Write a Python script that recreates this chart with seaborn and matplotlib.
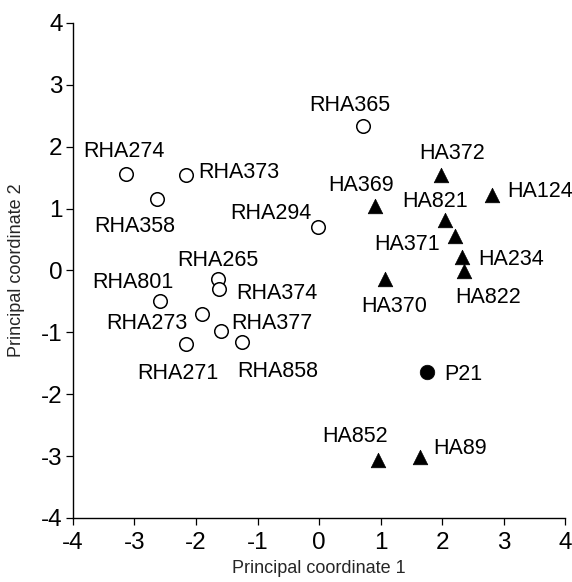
import matplotlib
matplotlib.use("Agg")
import matplotlib.pyplot as plt
import seaborn as sns
import pandas as pd

# ---- data ----
names = ["RHA274", "RHA373", "RHA358", "RHA294", "RHA265", "RHA374", "RHA801",
         "RHA273", "RHA377", "RHA271", "RHA858", "RHA365",
         "HA372", "HA369", "HA821", "HA124", "HA371", "HA234", "HA822", "HA370",
         "HA852", "HA89", "P21"]
pc1 = [-3.14, -2.16, -2.63, -0.02, -1.65, -1.63, -2.59,
       -1.91, -1.60, -2.16, -1.25, 0.72,
       1.99, 0.91, 2.05, 2.81, 2.21, 2.32, 2.36, 1.08,
       0.96, 1.64, 1.75]
pc2 = [1.56, 1.54, 1.16, 0.70, -0.14, -0.30, -0.49,
       -0.71, -0.98, -1.19, -1.16, 2.33,
       1.54, 1.04, 0.81, 1.22, 0.55, 0.21, -0.01, -0.14,
       -3.06, -3.02, -1.64]
group = ["RHA"] * 12 + ["HA"] * 10 + ["P21"]
ticks = [-4, -3, -2, -1, 0, 1, 2, 3, 4]

df = pd.DataFrame({"name": names, "pc1": pc1, "pc2": pc2, "group": group})

# label layout: (dx, dy) pixel offset of text from point (dy downward), alignment
label_layout = {
    "RHA274": (-2, -25, "center"), "RHA373": (12, -5.5, "left"),
    "RHA358": (-22, 25, "center"), "RHA294": (-6, -16, "right"),
    "RHA265": (0, -21, "center"), "RHA374": (17, 1.5, "left"),
    "RHA801": (-26.5, -21, "center"), "RHA273": (-14, 7, "right"),
    "RHA377": (11, -10, "left"), "RHA271": (-8.5, 27, "center"),
    "RHA858": (36, 27, "center"), "RHA365": (-13, -23, "center"),
    "HA372": (11, -24, "center"), "HA369": (-13.5, -23, "center"),
    "HA821": (-10.5, -21, "center"), "HA124": (15, -5.5, "left"),
    "HA371": (-15, 6, "right"), "HA234": (17, 0, "left"),
    "HA822": (24, 24, "center"), "HA370": (9, 24.5, "center"),
    "HA852": (-23, -25.5, "center"), "HA89": (13, -11, "left"),
    "P21": (18, 0, "left"),
}

sns.set_style("ticks")
plt.rcParams["font.family"] = ["Liberation Sans", "DejaVu Sans"]

fig = plt.figure(figsize=(5.72, 5.82), dpi=100)
ax = fig.add_axes([0.1276, 0.110, 0.8602, 0.8505])

sns.scatterplot(data=df[df.group == "RHA"], x="pc1", y="pc2", ax=ax,
                marker="o", s=95, facecolor="white", edgecolor="black",
                linewidth=1.1, zorder=3)
sns.scatterplot(data=df[df.group == "HA"], x="pc1", y="pc2", ax=ax,
                marker="^", s=110, color="black", edgecolor="black",
                linewidth=0.5, zorder=3)
sns.scatterplot(data=df[df.group == "P21"], x="pc1", y="pc2", ax=ax,
                marker="o", s=110, color="black", edgecolor="black",
                linewidth=0.5, zorder=3)

for n, x, y in zip(names, pc1, pc2):
    dx, dy, ha = label_layout[n]
    ax.annotate(n, (x, y), xytext=(dx, -(dy + 8)), textcoords="offset pixels",
                ha=ha, va="baseline", fontsize=15.5, color="black",
                annotation_clip=False)

ax.set_xlim(-4, 4)
ax.set_ylim(-4, 4)
ax.set_xticks(ticks)
ax.set_yticks(ticks)
ax.set_xticklabels([str(t) for t in ticks])
ax.set_yticklabels([str(t) for t in ticks])
ax.tick_params(axis="both", labelsize=17.5, length=5, width=0.9, direction="out",
               colors="black")
ax.tick_params(axis="x", pad=5)
ax.tick_params(axis="y", pad=2.5)
for side in ["top", "right"]:
    ax.spines[side].set_visible(False)
for side in ["left", "bottom"]:
    ax.spines[side].set_linewidth(1.0)
    ax.spines[side].set_color("black")

ax.set_xlabel("Principal coordinate 1", fontsize=13)
ax.set_ylabel("Principal coordinate 2", fontsize=13)
ax.xaxis.set_label_coords(0.5, -0.085)
ax.yaxis.set_label_coords(-0.098, 0.5)

fig.savefig("out.png", dpi=100)
